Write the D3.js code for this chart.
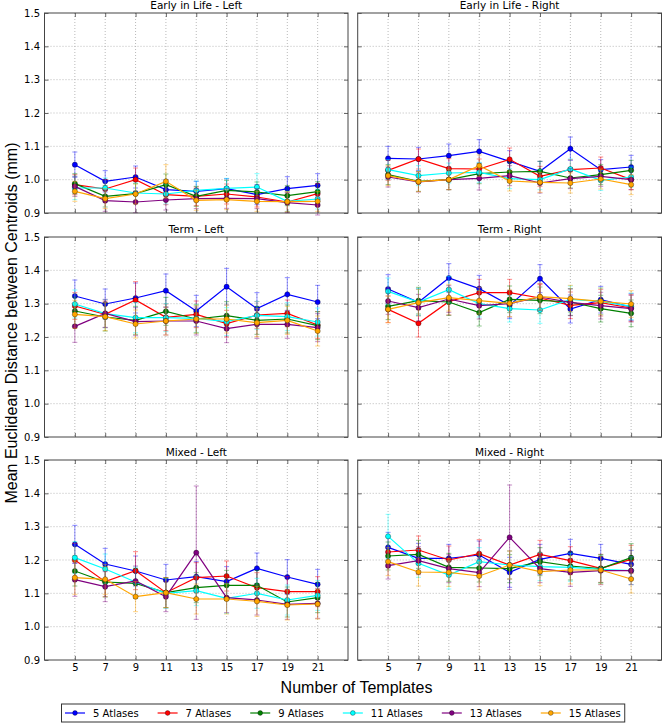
<!DOCTYPE html>
<html>
<head>
<meta charset="utf-8">
<script src="https://cdn.jsdelivr.net/npm/d3@7"></script>
<style>
  html, body { margin: 0; padding: 0; background: #fff; }
  svg { display: block; }
</style>
</head>
<body>
<div id="chart"></div>
<script>
// ---------------- DATA ----------------
const templates = [5, 7, 9, 11, 13, 15, 17, 19, 21];
const seriesNames = ["5 Atlases", "7 Atlases", "9 Atlases", "11 Atlases", "13 Atlases", "15 Atlases"];
const panelTitles = ["Early in Life - Left", "Early in Life - Right", "Term - Left", "Term - Right", "Mixed - Left", "Mixed - Right"];
const yTicks = [0.9, 1.0, 1.1, 1.2, 1.3, 1.4, 1.5];
const xDomain = [3, 23];
const yDomain = [0.9, 1.5];
const xLabel = "Number of Templates";
const yLabel = "Mean Euclidean Distance between Centroids (mm)";

// means per panel: rows = series (5,7,9,11,13,15 atlases), cols = templates
const earlyLeftMean = [
  [1.045, 0.995, 1.008, 0.970, 0.965, 0.973, 0.955, 0.973, 0.983],
  [0.985, 0.972, 1.000, 0.955, 0.950, 0.957, 0.948, 0.933, 0.958],
  [0.988, 0.950, 0.958, 0.985, 0.950, 0.968, 0.963, 0.952, 0.964],
  [0.975, 0.975, 0.960, 0.957, 0.968, 0.974, 0.978, 0.935, 0.942],
  [0.980, 0.937, 0.933, 0.939, 0.943, 0.944, 0.943, 0.931, 0.924],
  [0.965, 0.943, 0.957, 0.995, 0.938, 0.940, 0.935, 0.934, 0.935]
];
const earlyLeftErr = [
  [0.038, 0.032, 0.033, 0.030, 0.030, 0.030, 0.030, 0.036, 0.035],
  [0.030, 0.028, 0.035, 0.030, 0.028, 0.030, 0.030, 0.030, 0.030],
  [0.030, 0.032, 0.030, 0.032, 0.030, 0.030, 0.030, 0.030, 0.030],
  [0.035, 0.030, 0.030, 0.030, 0.028, 0.030, 0.040, 0.030, 0.030],
  [0.030, 0.032, 0.032, 0.030, 0.030, 0.030, 0.030, 0.030, 0.030],
  [0.030, 0.030, 0.030, 0.050, 0.030, 0.030, 0.030, 0.030, 0.030]
];
const earlyRightMean = [
  [1.064, 1.062, 1.072, 1.085, 1.055, 1.025, 1.093, 1.030, 1.038],
  [1.028, 1.062, 1.033, 1.032, 1.061, 1.010, 1.030, 1.035, 1.000],
  [1.015, 0.995, 1.000, 1.018, 1.023, 1.025, 1.005, 1.015, 1.028],
  [1.030, 1.012, 1.020, 1.022, 1.003, 1.000, 1.032, 0.998, 1.008],
  [1.008, 0.993, 1.000, 1.004, 1.012, 0.990, 1.003, 1.010, 1.000],
  [1.012, 0.994, 1.000, 1.042, 0.996, 0.992, 0.990, 1.002, 0.985]
];
const earlyRightErr = [
  [0.036, 0.035, 0.035, 0.035, 0.032, 0.030, 0.035, 0.030, 0.035],
  [0.030, 0.030, 0.030, 0.030, 0.034, 0.030, 0.030, 0.033, 0.030],
  [0.030, 0.030, 0.030, 0.030, 0.030, 0.030, 0.030, 0.030, 0.030],
  [0.030, 0.030, 0.030, 0.030, 0.030, 0.030, 0.030, 0.030, 0.030],
  [0.030, 0.030, 0.030, 0.035, 0.030, 0.030, 0.030, 0.030, 0.030],
  [0.030, 0.030, 0.030, 0.032, 0.030, 0.030, 0.030, 0.030, 0.030]
];
const termLeftMean = [
  [1.323, 1.299, 1.317, 1.339, 1.278, 1.351, 1.285, 1.328, 1.305],
  [1.293, 1.268, 1.311, 1.259, 1.268, 1.240, 1.266, 1.271, 1.236],
  [1.278, 1.260, 1.250, 1.277, 1.254, 1.264, 1.250, 1.254, 1.234],
  [1.299, 1.270, 1.258, 1.258, 1.256, 1.246, 1.265, 1.261, 1.245],
  [1.232, 1.271, 1.246, 1.248, 1.248, 1.225, 1.238, 1.238, 1.228],
  [1.268, 1.261, 1.239, 1.248, 1.254, 1.254, 1.243, 1.250, 1.218]
];
const termLeftErr = [
  [0.048, 0.045, 0.045, 0.050, 0.047, 0.055, 0.048, 0.050, 0.050],
  [0.040, 0.040, 0.055, 0.040, 0.040, 0.040, 0.040, 0.040, 0.040],
  [0.042, 0.042, 0.042, 0.042, 0.042, 0.042, 0.042, 0.042, 0.042],
  [0.042, 0.042, 0.045, 0.042, 0.042, 0.042, 0.042, 0.042, 0.042],
  [0.048, 0.042, 0.042, 0.042, 0.042, 0.042, 0.042, 0.042, 0.042],
  [0.042, 0.042, 0.042, 0.042, 0.042, 0.042, 0.042, 0.042, 0.045]
];
const termRightMean = [
  [1.344, 1.304, 1.377, 1.345, 1.295, 1.375, 1.284, 1.312, 1.290],
  [1.283, 1.241, 1.306, 1.333, 1.333, 1.317, 1.295, 1.303, 1.287],
  [1.292, 1.309, 1.305, 1.273, 1.313, 1.310, 1.305, 1.285, 1.271],
  [1.337, 1.305, 1.342, 1.300, 1.285, 1.281, 1.313, 1.307, 1.292],
  [1.308, 1.288, 1.314, 1.294, 1.300, 1.320, 1.304, 1.294, 1.285],
  [1.283, 1.303, 1.318, 1.309, 1.301, 1.321, 1.315, 1.307, 1.299]
];
const termRightErr = [
  [0.043, 0.040, 0.043, 0.040, 0.040, 0.042, 0.042, 0.040, 0.040],
  [0.040, 0.041, 0.040, 0.040, 0.040, 0.040, 0.040, 0.040, 0.040],
  [0.040, 0.040, 0.040, 0.040, 0.040, 0.040, 0.040, 0.040, 0.040],
  [0.040, 0.040, 0.040, 0.040, 0.040, 0.040, 0.040, 0.040, 0.040],
  [0.040, 0.040, 0.040, 0.040, 0.040, 0.040, 0.040, 0.040, 0.040],
  [0.040, 0.040, 0.040, 0.040, 0.040, 0.040, 0.040, 0.040, 0.040]
];
const mixedLeftMean = [
  [1.247, 1.188, 1.167, 1.140, 1.150, 1.135, 1.175, 1.149, 1.127],
  [1.200, 1.135, 1.168, 1.102, 1.147, 1.152, 1.117, 1.105, 1.105],
  [1.167, 1.134, 1.130, 1.102, 1.117, 1.124, 1.124, 1.074, 1.087],
  [1.207, 1.173, 1.134, 1.100, 1.108, 1.085, 1.100, 1.080, 1.094],
  [1.141, 1.120, 1.137, 1.090, 1.222, 1.087, 1.080, 1.067, 1.070],
  [1.147, 1.142, 1.090, 1.102, 1.083, 1.083, 1.076, 1.065, 1.068]
];
const mixedLeftErr = [
  [0.057, 0.047, 0.045, 0.047, 0.045, 0.045, 0.046, 0.052, 0.045],
  [0.050, 0.045, 0.057, 0.045, 0.045, 0.045, 0.045, 0.045, 0.045],
  [0.045, 0.045, 0.045, 0.045, 0.045, 0.045, 0.045, 0.045, 0.045],
  [0.048, 0.045, 0.045, 0.045, 0.045, 0.045, 0.045, 0.045, 0.045],
  [0.050, 0.045, 0.045, 0.045, 0.200, 0.045, 0.045, 0.045, 0.045],
  [0.050, 0.045, 0.045, 0.045, 0.045, 0.045, 0.045, 0.045, 0.045]
];
const mixedRightMean = [
  [1.238, 1.205, 1.205, 1.215, 1.163, 1.202, 1.220, 1.205, 1.187],
  [1.224, 1.230, 1.200, 1.219, 1.185, 1.217, 1.198, 1.175, 1.202],
  [1.212, 1.217, 1.178, 1.176, 1.174, 1.195, 1.182, 1.174, 1.207],
  [1.271, 1.190, 1.155, 1.195, 1.185, 1.180, 1.178, 1.172, 1.168],
  [1.183, 1.198, 1.174, 1.162, 1.268, 1.174, 1.163, 1.168, 1.168],
  [1.195, 1.164, 1.163, 1.152, 1.185, 1.165, 1.170, 1.170, 1.143]
];
const mixedRightErr = [
  [0.045, 0.045, 0.042, 0.042, 0.045, 0.045, 0.042, 0.042, 0.042],
  [0.045, 0.042, 0.042, 0.042, 0.042, 0.042, 0.042, 0.042, 0.042],
  [0.042, 0.042, 0.042, 0.042, 0.042, 0.042, 0.042, 0.042, 0.042],
  [0.066, 0.042, 0.042, 0.042, 0.042, 0.042, 0.042, 0.042, 0.042],
  [0.040, 0.042, 0.042, 0.042, 0.157, 0.042, 0.042, 0.042, 0.042],
  [0.042, 0.042, 0.042, 0.042, 0.042, 0.042, 0.042, 0.042, 0.042]
];

const panelMeans = [earlyLeftMean, earlyRightMean, termLeftMean, termRightMean, mixedLeftMean, mixedRightMean];
const panelErrs = [earlyLeftErr, earlyRightErr, termLeftErr, termRightErr, mixedLeftErr, mixedRightErr];

// ---------------- STYLE ----------------
const seriesColors = ["#0000ff", "#ff0000", "#008000", "#00ffff", "#800080", "#ffa500"];
const W = 664, H = 724;
const colX = [[44.5, 348], [357.7, 661.5]];
const rowY = [[13, 213], [237, 437], [460, 660]];
const tickFont = "'DejaVu Sans', sans-serif";
const labelFont = "'Liberation Sans', Arial, sans-serif";
const frameColor = "#444";

const svg = d3.select("#chart").append("svg")
  .attr("width", W).attr("height", H)
  .attr("viewBox", `0 0 ${W} ${H}`);
svg.append("rect").attr("width", W).attr("height", H).attr("fill", "#fff");

panelTitles.forEach((title, p) => {
  const col = p % 2, row = Math.floor(p / 2);
  const [x0, x1] = colX[col];
  const [y0, y1] = rowY[row];
  const x = d3.scaleLinear().domain(xDomain).range([x0, x1]);
  const y = d3.scaleLinear().domain(yDomain).range([y1, y0]);
  const g = svg.append("g");

  // grid
  g.append("g").selectAll("line").data(templates).join("line")
    .attr("x1", d => x(d)).attr("x2", d => x(d))
    .attr("y1", y0).attr("y2", y1)
    .attr("stroke", "#a8a8a8").attr("stroke-width", 0.8).attr("stroke-dasharray", "1,2");
  g.append("g").selectAll("line").data(yTicks.slice(1, -1)).join("line")
    .attr("x1", x0).attr("x2", x1)
    .attr("y1", d => y(d)).attr("y2", d => y(d))
    .attr("stroke", "#a8a8a8").attr("stroke-width", 0.8).attr("stroke-dasharray", "1,2");

  // series
  const means = panelMeans[p], errs = panelErrs[p];
  means.forEach((vals, s) => {
    const color = seriesColors[s];
    const pts = templates.map((t, i) => ({ t, v: vals[i], e: errs[s][i] }));
    const eb = g.append("g").attr("stroke", color).attr("stroke-opacity", 0.45).attr("stroke-width", 1);
    pts.forEach(d => {
      eb.append("line").attr("x1", x(d.t)).attr("x2", x(d.t))
        .attr("y1", y(d.v - d.e)).attr("y2", y(d.v + d.e));
      eb.append("line").attr("x1", x(d.t) - 2.5).attr("x2", x(d.t) + 2.5)
        .attr("y1", y(d.v - d.e)).attr("y2", y(d.v - d.e));
      eb.append("line").attr("x1", x(d.t) - 2.5).attr("x2", x(d.t) + 2.5)
        .attr("y1", y(d.v + d.e)).attr("y2", y(d.v + d.e));
    });
    g.append("path").datum(pts)
      .attr("fill", "none").attr("stroke", color).attr("stroke-width", 1.2)
      .attr("d", d3.line().x(d => x(d.t)).y(d => y(d.v)));
    g.append("g").selectAll("circle").data(pts).join("circle")
      .attr("cx", d => x(d.t)).attr("cy", d => y(d.v)).attr("r", 2.6)
      .attr("fill", color).attr("stroke", "#000").attr("stroke-opacity", 0.55).attr("stroke-width", 0.6);
  });

  // frame
  g.append("rect").attr("x", x0).attr("y", y0).attr("width", x1 - x0).attr("height", y1 - y0)
    .attr("fill", "none").attr("stroke", frameColor).attr("stroke-width", 1);

  // axes (inward ticks)
  const yAxL = d3.axisLeft(y).tickValues(yTicks).tickSize(-4).tickPadding(4.5)
    .tickFormat(col === 0 ? d3.format(".1f") : () => "");
  const yAxR = d3.axisRight(y).tickValues(yTicks).tickSize(-4).tickFormat(() => "");
  const xAxB = d3.axisBottom(x).tickValues(templates).tickSize(-4).tickPadding(3.5)
    .tickFormat(row === 2 ? d3.format("d") : () => "");
  const xAxT = d3.axisTop(x).tickValues(templates).tickSize(-4).tickFormat(() => "");
  const axes = [
    g.append("g").attr("transform", `translate(${x0},0)`).call(yAxL),
    g.append("g").attr("transform", `translate(${x1},0)`).call(yAxR),
    g.append("g").attr("transform", `translate(0,${y1})`).call(xAxB),
    g.append("g").attr("transform", `translate(0,${y0})`).call(xAxT)
  ];
  axes.forEach(a => {
    a.select(".domain").remove();
    a.selectAll(".tick line").attr("stroke", frameColor).attr("stroke-width", 0.8);
    a.selectAll(".tick text").attr("font-family", tickFont).attr("font-size", 10).attr("fill", "#000");
  });

  // title
  g.append("text").attr("x", (x0 + x1) / 2).attr("y", y0 - 3.8)
    .attr("text-anchor", "middle").attr("font-family", tickFont).attr("font-size", 10.5)
    .attr("fill", "#000").text(title);
});

// axis labels
svg.append("text").attr("transform", "translate(17,323) rotate(-90)")
  .attr("text-anchor", "middle").attr("font-family", labelFont).attr("font-size", 16)
  .attr("fill", "#000").text(yLabel);
svg.append("text").attr("x", 356.5).attr("y", 693)
  .attr("text-anchor", "middle").attr("font-family", labelFont).attr("font-size", 16)
  .attr("fill", "#000").text(xLabel);

// legend
const leg = svg.append("g");
const legBox = leg.append("rect").attr("y", 704).attr("height", 18)
  .attr("fill", "#fff").attr("stroke", "#333").attr("stroke-width", 1);
let cx = 65;
const legY = 713;
seriesNames.forEach((name, s) => {
  leg.append("line").attr("x1", cx).attr("x2", cx + 20).attr("y1", legY).attr("y2", legY)
    .attr("stroke", seriesColors[s]).attr("stroke-width", 1.2);
  leg.append("circle").attr("cx", cx + 10).attr("cy", legY).attr("r", 2.4)
    .attr("fill", seriesColors[s]).attr("stroke", "#000").attr("stroke-opacity", 0.55).attr("stroke-width", 0.6);
  const t = leg.append("text").attr("x", cx + 28).attr("y", legY).attr("dy", "0.35em")
    .attr("font-family", tickFont).attr("font-size", 10).attr("fill", "#000").text(name);
  const w = t.node().getComputedTextLength();
  cx = cx + 28 + w + (s < seriesNames.length - 1 ? 19 : 4);
});
legBox.attr("x", 61.5).attr("width", cx - 61.5);
</script>
</body>
</html>
